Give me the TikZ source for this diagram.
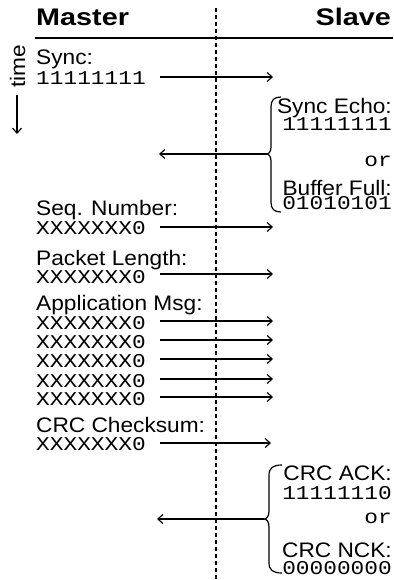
\documentclass[tikz,border=0pt]{standalone}
\usepackage{fontspec}
\setmainfont{Liberation Sans}
\newfontfamily\sansfnt[FakeStretch=1.08]{Liberation Sans}
\newfontfamily\headfnt[FakeStretch=1.2]{Liberation Sans}
\newfontfamily\monofnt[FakeStretch=1.17]{Liberation Mono}
\usetikzlibrary{arrows.meta}
\begin{document}
\begin{tikzpicture}[x=1pt,y=-1pt,
  head/.style={font=\fontsize{24}{26}\headfnt\bfseries, inner sep=0},
  sans/.style={font=\fontsize{21}{24}\sansfnt, inner sep=0},
  mono/.style={font=\fontsize{19.5}{22}\monofnt, inner sep=0},
  msg/.style={line width=1.2pt, -{Straight Barb[length=5pt,width=9pt]}},
  brc/.style={line width=1.2pt},
  bus/.style={line width=1.3pt, dash pattern=on 4pt off 3pt}]
\useasboundingbox (0,0) rectangle (393,580);
% headings
\node[head, anchor=base west] (master) at (36,26) {Master};
\node[head, anchor=base east] (slave) at (391,26) {Slave};
\coordinate (ruleL) at (35,38);
\coordinate (ruleR) at (393,38);
\draw[line width=1.5pt] (ruleL) -- (ruleR);
\coordinate (busT) at (216,8);
\coordinate (busB) at (216,580);
\draw[bus] (busT) -- (busB);
% time
\node[sans, rotate=90, anchor=base] (time) at (25,66) {time};
\coordinate (tA) at (17,95);
\coordinate (tB) at (17,134);
\draw[msg] (tA) -- (tB);
% sync
\node[sans, anchor=base west] (sync) at (36,65) {Sync:};
\node[mono, anchor=base west] (syncv) at (36,85) {11111111};
\coordinate (s1a) at (160,77); \coordinate (s1b) at (273,77);
\draw[msg] (s1a) -- (s1b);
% slave reply 1
\node[sans, anchor=base east] (echo) at (392,114) {Sync Echo:};
\node[mono, anchor=base east] (echov) at (392,131) {11111111};
\node[mono, anchor=base east] (or1) at (392,166) {or};
\node[sans, anchor=base east] (full) at (392,195) {Buffer Full:};
\node[mono, anchor=base east] (fullv) at (392,209) {01010101};
\draw[brc] (281,97) .. controls (274,97) and (271,100) .. (271,107) -- (271,147)
  .. controls (271,151) and (269,154) .. (267,154)
  .. controls (269,154) and (271,157) .. (271,161) -- (271,202)
  .. controls (271,209) and (274,212) .. (281,212);
\coordinate (b1tip) at (267,154); \coordinate (b1end) at (159,154);
\draw[msg] (b1tip) -- (b1end);
% sequence number
\node[sans, anchor=base west] (seq) at (36,215) {Seq. Number:};
\node[mono, anchor=base west] (seqv) at (36,234) {XXXXXXX0};
\coordinate (s2a) at (160,227); \coordinate (s2b) at (273,227);
\draw[msg] (s2a) -- (s2b);
% packet length
\node[sans, anchor=base west] (len) at (36,265) {Packet Length:};
\node[mono, anchor=base west] (lenv) at (36,283) {XXXXXXX0};
\coordinate (s3a) at (160,274); \coordinate (s3b) at (273,274);
\draw[msg] (s3a) -- (s3b);
% application message
\node[sans, anchor=base west] (app) at (36,310) {Application Msg:};
\foreach \i/\y in {1/329,2/348,3/367,4/387,5/405}{
  \node[mono, anchor=base west] (appv\i) at (36,\y) {XXXXXXX0};
  \coordinate (m\i a) at (160,\y-8); \coordinate (m\i b) at (273,\y-8);
  \draw[msg] (m\i a) -- (m\i b);
}
% checksum
\node[sans, anchor=base west] (crc) at (36,432) {CRC Checksum:};
\node[mono, anchor=base west] (crcv) at (36,450) {XXXXXXX0};
\coordinate (s4a) at (160,443); \coordinate (s4b) at (271,443);
\draw[msg] (s4a) -- (s4b);
% slave reply 2
\node[sans, anchor=base east] (ack) at (392,480) {CRC ACK:};
\node[mono, anchor=base east] (ackv) at (392,499) {11111110};
\node[mono, anchor=base east] (or2) at (392,523) {or};
\node[sans, anchor=base east] (nck) at (392,557) {CRC NCK:};
\node[mono, anchor=base east] (nckv) at (392,574) {00000000};
\draw[brc] (282,465) .. controls (273,465) and (269,468) .. (269,475) -- (269,511)
  .. controls (269,516) and (267,519) .. (264,519)
  .. controls (267,519) and (269,522) .. (269,527) -- (269,563)
  .. controls (269,570) and (273,573) .. (282,573);
\coordinate (b2tip) at (264,519); \coordinate (b2end) at (157,519);
\draw[msg] (b2tip) -- (b2end);
\end{tikzpicture}
\end{document}
